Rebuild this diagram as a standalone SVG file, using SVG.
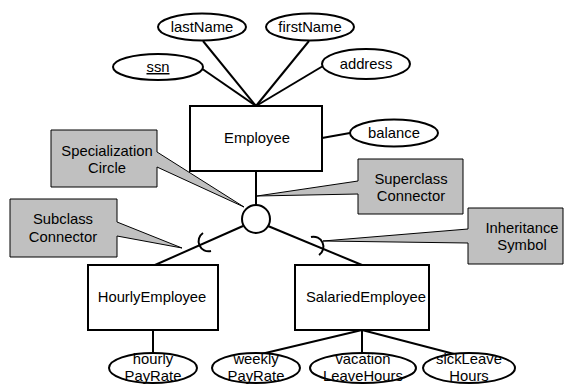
<svg xmlns="http://www.w3.org/2000/svg" width="564" height="384" viewBox="0 0 564 384">
<style>
.ln{stroke:#000;stroke-width:2;fill:none}
.ent{fill:#fff;stroke:#000;stroke-width:2}
.att{fill:#fff;stroke:#000;stroke-width:2}
.co{fill:#c0c0c0;stroke:#000;stroke-width:1}
text{font-family:"Liberation Sans",Arial,sans-serif;font-size:14.8px;fill:#000;text-anchor:middle}
</style>
<rect width="564" height="384" fill="#fff"/>
<g id="connectors">
<line class="ln" x1="203" y1="41" x2="256" y2="106"/>
<line class="ln" x1="309" y1="41" x2="256" y2="106"/>
<line class="ln" x1="201" y1="68" x2="256" y2="106"/>
<line class="ln" x1="323" y1="66" x2="256" y2="106"/>
<line class="ln" x1="322" y1="138" x2="350" y2="133"/>
<line class="ln" x1="256" y1="171" x2="256" y2="205"/>
<line class="ln" x1="243" y1="226" x2="155" y2="265"/>
<line class="ln" x1="268" y1="226" x2="362" y2="265"/>
<path class="ln" d="M203,233 A10,10 0 0 0 211,251"/>
<path class="ln" d="M311,237 A10,10 0 0 1 319,255"/>
<line class="ln" x1="153" y1="330" x2="153" y2="354"/>
<line class="ln" x1="362" y1="330" x2="257" y2="355"/>
<line class="ln" x1="362" y1="330" x2="362" y2="354"/>
<line class="ln" x1="362" y1="330" x2="458" y2="355"/>
</g>
<g id="lastName"><ellipse class="att" cx="202" cy="27" rx="44" ry="13.5"/><text x="202" y="32">lastName</text></g>
<g id="firstName"><ellipse class="att" cx="310" cy="27" rx="44" ry="13.5"/><text x="310" y="32">firstName</text></g>
<g id="ssn"><ellipse class="att" cx="158" cy="67" rx="45" ry="13"/><text x="158" y="72" text-decoration="underline">ssn</text></g>
<g id="address"><ellipse class="att" cx="366" cy="64" rx="44" ry="15"/><text x="366" y="69">address</text></g>
<g id="Employee"><rect class="ent" x="190" y="106" width="132" height="65"/><text x="257" y="143">Employee</text></g>
<g id="balance"><ellipse class="att" cx="394" cy="133" rx="44" ry="13.5"/><text x="394" y="138">balance</text></g>
<g id="specCircle"><circle class="ent" cx="256" cy="219" r="14"/></g>
<g id="HourlyEmployee"><rect class="ent" x="88" y="265" width="130" height="65"/><text x="152" y="302">HourlyEmployee</text></g>
<g id="SalariedEmployee"><rect class="ent" x="295" y="265" width="134" height="65"/><text x="366" y="302">SalariedEmployee</text></g>
<g id="hourlyPayRate"><ellipse class="att" cx="153" cy="368" rx="44" ry="15"/><text x="153" y="364">hourly</text><text x="153" y="381">PayRate</text></g>
<g id="weeklyPayRate"><ellipse class="att" cx="256" cy="368" rx="44" ry="15"/><text x="256" y="364">weekly</text><text x="256" y="381">PayRate</text></g>
<g id="vacationLeaveHours"><ellipse class="att" cx="363" cy="368" rx="53" ry="15"/><text x="363" y="364">vacation</text><text x="363" y="381">LeaveHours</text></g>
<g id="sickLeaveHours"><ellipse class="att" cx="469" cy="368" rx="46" ry="15"/><text x="469" y="364">sickLeave</text><text x="469" y="381">Hours</text></g>
<g id="calloutSpecialization"><path class="co" d="M51,130 H157 V152 L244,207 L157,167 V187 H51 Z"/><text x="107" y="156">Specialization</text><text x="107" y="173">Circle</text></g>
<g id="calloutSuperclass"><path class="co" d="M358,159 H463 V214 H358 V194 L257,196 L358,181 Z"/><text x="411" y="184">Superclass</text><text x="411" y="201">Connector</text></g>
<g id="calloutSubclass"><path class="co" d="M10,199 H117 V222 L182,248 L117,236 V257 H10 Z"/><text x="63" y="224">Subclass</text><text x="63" y="242">Connector</text></g>
<g id="calloutInheritance"><path class="co" d="M468,208 H563 V264 H468 V243 L323,241 L468,229 Z"/><text x="522" y="233">Inheritance</text><text x="522" y="250">Symbol</text></g>
</svg>
